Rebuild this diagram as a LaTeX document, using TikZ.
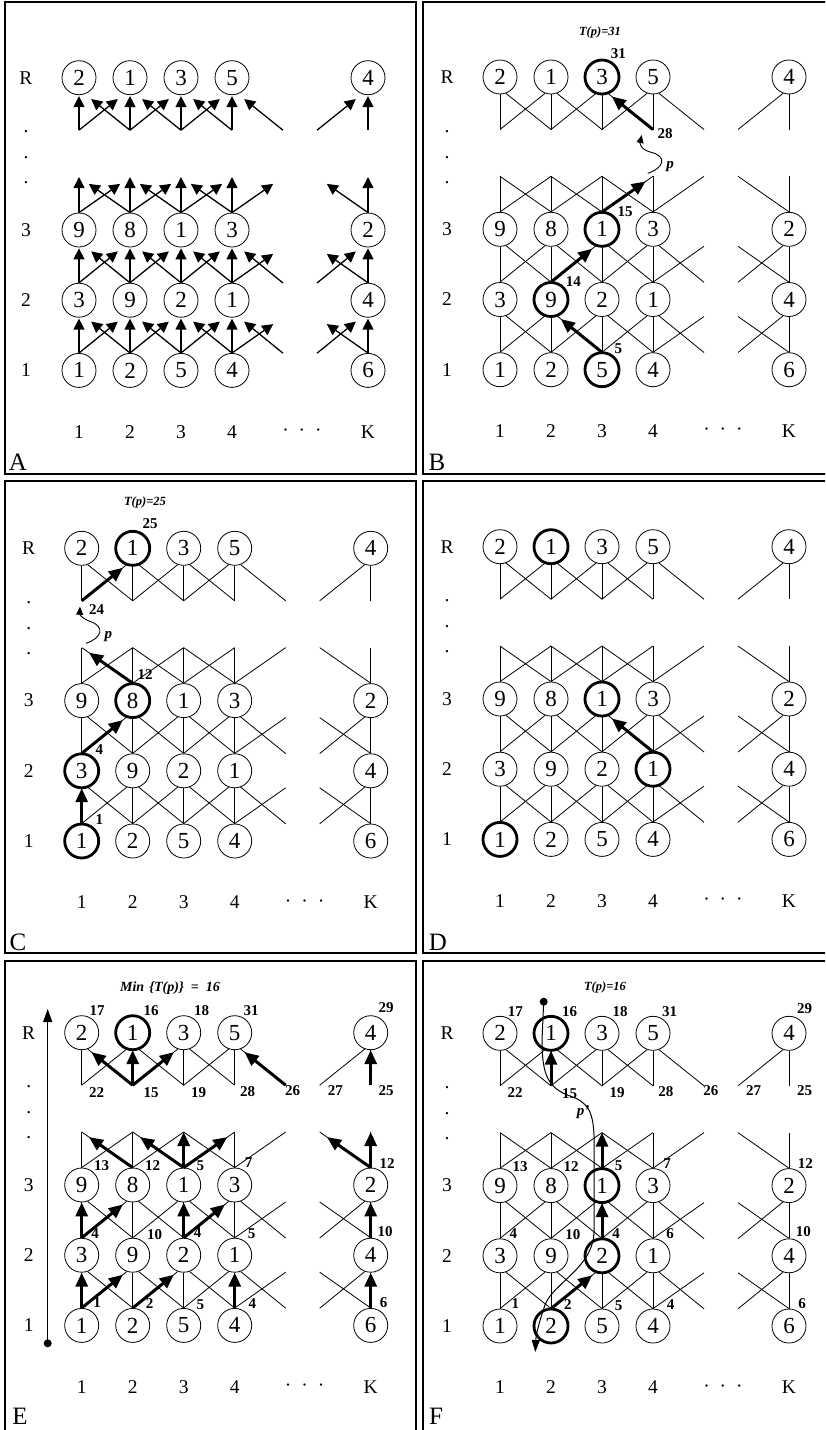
\documentclass[tikz,border=0pt]{standalone}
\usepackage{fontspec}
\setmainfont{Liberation Serif}
\usetikzlibrary{arrows.meta}

\tikzset{
 nd/.style={circle, draw, fill=white, minimum size=34pt, inner sep=0pt, line width=0.8pt, font=\fontsize{23}{23}\selectfont},
 lbl/.style={inner sep=0pt, font=\fontsize{19.5}{19.5}\selectfont},
 plbl/.style={inner sep=0pt, font=\fontsize{25}{25}\selectfont},
 num/.style={inner sep=0pt, font=\fontsize{15}{15}\selectfont\bfseries},
 ttl/.style={inner sep=0pt, font=\fontsize{12.5}{12.5}\selectfont\bfseries\itshape},
 thinl/.style={line width=0.8pt},
 arw/.style={line width=1.3pt, -{Triangle[length=11pt,width=11pt]}},
 ed/.style={thinl}, ev/.style={thinl}, pd/.style={thinl}, pv/.style={thinl},
 hot/.style={line width=3pt, -{Triangle[length=14pt,width=12pt]}},
 hotd/.style={hot, shorten >=5pt},
 hotv/.style={hot},
 hotp/.style={hot, shorten >=9pt},
 ring/.style={line width=2.8pt},
 panelframe/.style={line width=1.5pt},
 wavy/.style={line width=0.9pt, -{Triangle[length=8pt,width=7pt]}},
}

% edges between two real rows (#2 lower, #3 upper)
\newcommand\edgesmid[3]{%
 \draw[ev] (#1-1-#2.north) -- (#1-1-#3.south);
 \draw[ed] (#1-1-#2.north) -- (#1-2-#3.250);
 \draw[ed] (#1-2-#2.north) -- (#1-1-#3.290);
 \draw[ev] (#1-2-#2.north) -- (#1-2-#3.south);
 \draw[ed] (#1-2-#2.north) -- (#1-3-#3.250);
 \draw[ed] (#1-3-#2.north) -- (#1-2-#3.290);
 \draw[ev] (#1-3-#2.north) -- (#1-3-#3.south);
 \draw[ed] (#1-3-#2.north) -- (#1-4-#3.250);
 \draw[ed] (#1-4-#2.north) -- (#1-3-#3.290);
 \draw[ev] (#1-4-#2.north) -- (#1-4-#3.south);
 \draw[pd] (#1-4-#2.north) -- (#1-5-#3b);
 \draw[ed] (#1-5-#2t) -- (#1-4-#3.290);
 \draw[pd] (#1-K-#2.north) -- (#1-J-#3b);
 \draw[ed] (#1-J-#2t) -- (#1-K-#3.250);
 \draw[ev] (#1-K-#2.north) -- (#1-K-#3.south);
}
% edges from row 3 upward to the cut
\newcommand\edgestop[1]{%
 \draw[pv] (#1-1-3.north) -- (#1-1-4b);
 \draw[pd] (#1-1-3.north) -- (#1-2-4b);
 \draw[pd] (#1-2-3.north) -- (#1-1-4b);
 \draw[pv] (#1-2-3.north) -- (#1-2-4b);
 \draw[pd] (#1-2-3.north) -- (#1-3-4b);
 \draw[pd] (#1-3-3.north) -- (#1-2-4b);
 \draw[pv] (#1-3-3.north) -- (#1-3-4b);
 \draw[pd] (#1-3-3.north) -- (#1-4-4b);
 \draw[pd] (#1-4-3.north) -- (#1-3-4b);
 \draw[pv] (#1-4-3.north) -- (#1-4-4b);
 \draw[pd] (#1-4-3.north) -- (#1-5-4b);
 \draw[pd] (#1-K-3.north) -- (#1-J-4b);
 \draw[pv] (#1-K-3.north) -- (#1-K-4b);
}
% edges from the cut into row R
\newcommand\edgesR[1]{%
 \draw[ev] (#1-1-Qt) -- (#1-1-R.south);
 \draw[ed] (#1-2-Qt) -- (#1-1-R.290);
 \draw[ed] (#1-1-Qt) -- (#1-2-R.250);
 \draw[ev] (#1-2-Qt) -- (#1-2-R.south);
 \draw[ed] (#1-3-Qt) -- (#1-2-R.290);
 \draw[ed] (#1-2-Qt) -- (#1-3-R.250);
 \draw[ev] (#1-3-Qt) -- (#1-3-R.south);
 \draw[ed] (#1-4-Qt) -- (#1-3-R.290);
 \draw[ed] (#1-3-Qt) -- (#1-4-R.250);
 \draw[ev] (#1-4-Qt) -- (#1-4-R.south);
 \draw[ed] (#1-5-Qt) -- (#1-4-R.290);
 \draw[ed] (#1-J-Qt) -- (#1-K-R.250);
 \draw[ev] (#1-K-Qt) -- (#1-K-R.south);
}

\newcommand\panel[3]{%
\begin{scope}[shift={(#2,#3)}]
 \node[nd] (#1-1-R) at (0,0) {2};
 \node[nd] (#1-2-R) at (51,0) {1};
 \node[nd] (#1-3-R) at (102,0) {3};
 \node[nd] (#1-4-R) at (153,0) {5};
 \node[nd] (#1-K-R) at (289,0) {4};
 \node[nd] (#1-1-3) at (0,152.3) {9};
 \node[nd] (#1-2-3) at (51,152.3) {8};
 \node[nd] (#1-3-3) at (102,152.3) {1};
 \node[nd] (#1-4-3) at (153,152.3) {3};
 \node[nd] (#1-K-3) at (289,152.3) {2};
 \node[nd] (#1-1-2) at (0,222.5) {3};
 \node[nd] (#1-2-2) at (51,222.5) {9};
 \node[nd] (#1-3-2) at (102,222.5) {2};
 \node[nd] (#1-4-2) at (153,222.5) {1};
 \node[nd] (#1-K-2) at (289,222.5) {4};
 \node[nd] (#1-1-1) at (0,292.7) {1};
 \node[nd] (#1-2-1) at (51,292.7) {2};
 \node[nd] (#1-3-1) at (102,292.7) {5};
 \node[nd] (#1-4-1) at (153,292.7) {4};
 \node[nd] (#1-K-1) at (289,292.7) {6};
 \coordinate (#1-5-1t) at (204,275.5);
 \coordinate (#1-J-1t) at (238,275.5);
 \coordinate (#1-5-2b) at (204,239.5);
 \coordinate (#1-J-2b) at (238,239.5);
 \coordinate (#1-5-2t) at (204,205.3);
 \coordinate (#1-J-2t) at (238,205.3);
 \coordinate (#1-5-3b) at (204,169.3);
 \coordinate (#1-J-3b) at (238,169.3);
 \foreach \c/\x in {1/0,2/51,3/102,4/153,5/204,J/238,K/289}{
  \coordinate (#1-\c-4b) at (\x,99.3);
  \coordinate (#1-\c-Qt) at (\x,52.5);
 }
 \edgesmid{#1}{1}{2}
 \edgesmid{#1}{2}{3}
 \edgestop{#1}
 \edgesR{#1}
 \node[lbl] (#1-rR) at (-53,0) {R};
 \node[lbl] (#1-d1) at (-53,54.3) {.};
 \node[lbl] (#1-d2) at (-53,80.3) {.};
 \node[lbl] (#1-d3) at (-53,105.3) {.};
 \node[lbl] (#1-r3) at (-53,152.3) {3};
 \node[lbl] (#1-r2) at (-53,222.5) {2};
 \node[lbl] (#1-r1) at (-53,292.7) {1};
 \node[lbl] (#1-c1) at (0,354) {1};
 \node[lbl] (#1-c2) at (51,354) {2};
 \node[lbl] (#1-c3) at (102,354) {3};
 \node[lbl] (#1-c4) at (153,354) {4};
 \node[lbl] (#1-cd) at (223,355) {·\kern10pt·\kern10pt·};
 \node[lbl] (#1-cK) at (289,354) {K};
\end{scope}}

\newcommand\costs[4]{%
\begin{scope}[shift={(#2,#3)}]
 \node[num] (#1-nR1) at (15.3,-22) {17};
 \node[num] (#1-nR2) at (69.5,-22) {16};
 \node[num] (#1-nR3) at (120,-22) {18};
 \node[num] (#1-nR4) at (169.5,-22) {31};
 \node[num] (#1-nRK) at (304.5,-24.7) {29};
 \node[num] (#1-nQ1) at (15,59.5) {22};
 \node[num] (#1-nQ2) at (69.5,60) {15};
 \node[num] (#1-nQ3) at (117,59.5) {19};
 \node[num] (#1-nQ4) at (165.8,58.7) {28};
 \node[num] (#1-nQ5) at (210.8,57.7) {26};
 \node[num] (#1-nQJ) at (253.6,57.7) {27};
 \node[num] (#1-nQK) at (304.5,57.7) {25};
 \node[num] (#1-n31) at (20,133) {13};
 \node[num] (#1-n32) at (71,133) {12};
 \node[num] (#1-n33) at (118.6,132.5) {5};
 \node[num] (#1-n34) at (167,130) {7};
 \node[num] (#1-n3K) at (305.3,130.6) {12};
 \node[num] (#1-n21) at (13.3,200.6) {4};
 \node[num] (#1-n22) at (72.8,201.6) {10};
 \node[num] (#1-n23) at (116,200.3) {4};
 \node[num] (#1-n24) at (170,200.6) {#4};
 \node[num] (#1-n2K) at (303.3,198.7) {10};
 \node[num] (#1-n11) at (15.3,270.3) {1};
 \node[num] (#1-n12) at (67.8,271) {2};
 \node[num] (#1-n13) at (118.6,272) {5};
 \node[num] (#1-n14) at (170.6,271) {4};
 \node[num] (#1-n1K) at (302,270.3) {6};
\end{scope}}

\begin{document}
\begin{tikzpicture}[x=1pt,y=-1pt]
\useasboundingbox (0,0) rectangle (825,1430);
\clip (0,0) rectangle (825,1430);
\fill[white] (0,0) rectangle (825,1430);

% frames
\draw[panelframe] (5,2) rectangle (416,474);
\draw[panelframe] (423,2) rectangle (834,474);
\draw[panelframe] (5,481) rectangle (416,953);
\draw[panelframe] (423,481) rectangle (834,953);
\draw[panelframe] (5,961) rectangle (416,1432);
\draw[panelframe] (423,961) rectangle (834,1432);
\node[plbl] (labA) at (18,462) {A};
\node[plbl] (labB) at (437,462) {B};
\node[plbl] (labC) at (18,942) {C};
\node[plbl] (labD) at (438,942) {D};
\node[plbl] (labE) at (20,1416) {E};
\node[plbl] (labF) at (436,1416) {F};

% ---------- A ----------
\begin{scope}[ed/.style={arw,shorten >=8pt}, ev/.style={arw,shorten >=1pt},
              pd/.style={arw,shorten >=12pt}, pv/.style={arw}]
\panel{A}{79}{77.7}
\end{scope}

% ---------- B ----------
\panel{B}{500}{77}
\foreach \n in {B-3-1,B-2-2,B-3-3,B-3-R} \draw[ring] (\n) circle[radius=17pt];
\draw[hotd] (B-3-1.north) -- (B-2-2.290);
\draw[hotd] (B-2-2.north) -- (B-3-3.250);
\draw[hotp] (B-3-3.north) -- (B-4-4b);
\draw[hotd] (B-4-Qt) -- (B-3-R.290);
\begin{scope}[shift={(500,77)}]
 \coordinate (B-ws) at (147.7,96.3);
 \coordinate (B-we) at (141.7,58);
 \draw[wavy] (B-ws) .. controls (164,91) and (168,79) .. (150,75) .. controls (140,72) and (140,66) .. (B-we);
 \node[num] (B-p) at (170,89.7) {\itshape p};
 \node[num] (B-n1) at (118.4,271.3) {5};
 \node[num] (B-n2) at (73.4,204.7) {14};
 \node[num] (B-n3) at (125,134.7) {15};
 \node[num] (B-n4) at (165,56.3) {28};
 \node[num] (B-n5) at (118.4,-23.7) {31};
 \node[ttl] (B-t) at (100,-44.7) {T(p)=31};
\end{scope}

% ---------- C ----------
\panel{C}{81.7}{548.3}
\foreach \n in {C-1-1,C-1-2,C-2-3,C-2-R} \draw[ring] (\n) circle[radius=17pt];
\draw[hotv] (C-1-1.north) -- (C-1-2.south);
\draw[hotd] (C-1-2.north) -- (C-2-3.250);
\draw[hotp] (C-2-3.north) -- (C-1-4b);
\draw[hotd] (C-1-Qt) -- (C-2-R.250);
\begin{scope}[shift={(81.7,548.3)}]
 \coordinate (C-ws) at (4.3,95);
 \coordinate (C-we) at (-1.7,58.4);
 \draw[wavy] (C-ws) .. controls (20,90) and (24,78) .. (8,73) .. controls (0,70) and (-2,66) .. (C-we);
 \node[num] (C-p) at (26.6,88.4) {\itshape p};
 \node[num] (C-n1) at (17.6,271.7) {1};
 \node[num] (C-n2) at (17.6,201.7) {4};
 \node[num] (C-n3) at (63.3,126.7) {12};
 \node[num] (C-n4) at (15,61.7) {24};
 \node[num] (C-n5) at (68.3,-25) {25};
 \node[ttl] (C-t) at (63.3,-46) {T(p)=25};
\end{scope}

% ---------- D ----------
\panel{D}{500}{546.7}
\foreach \n in {D-1-1,D-4-2,D-3-3,D-2-R} \draw[ring] (\n) circle[radius=17pt];
\draw[hotd] (D-4-2.north) -- (D-3-3.290);

% ---------- E ----------
\panel{E}{81.7}{1032.7}
\draw[ring] (E-2-R) circle[radius=17pt];
\draw[hotv] (E-1-1.north) -- (E-1-2.south);
\draw[hotd] (E-1-1.north) -- (E-2-2.250);
\draw[hotd] (E-2-1.north) -- (E-3-2.250);
\draw[hotv] (E-4-1.north) -- (E-4-2.south);
\draw[hotv] (E-K-1.north) -- (E-K-2.south);
\draw[hotv] (E-1-2.north) -- (E-1-3.south);
\draw[hotd] (E-1-2.north) -- (E-2-3.250);
\draw[hotv] (E-3-2.north) -- (E-3-3.south);
\draw[hotd] (E-3-2.north) -- (E-4-3.250);
\draw[hotv] (E-K-2.north) -- (E-K-3.south);
\draw[hotp] (E-2-3.north) -- (E-1-4b);
\draw[hotp] (E-3-3.north) -- (E-2-4b);
\draw[hotv] (E-3-3.north) -- (E-3-4b);
\draw[hotp] (E-3-3.north) -- (E-4-4b);
\draw[hotp] (E-K-3.north) -- (E-J-4b);
\draw[hotv] (E-K-3.north) -- (E-K-4b);
\draw[hotd] (E-2-Qt) -- (E-1-R.290);
\draw[hotv] (E-2-Qt) -- (E-2-R.south);
\draw[hotd] (E-2-Qt) -- (E-3-R.250);
\draw[hotd] (E-5-Qt) -- (E-4-R.290);
\draw[hotv] (E-K-Qt) -- (E-K-R.south);
\costs{E}{81.7}{1032.7}{5}
\node[ttl, font=\fontsize{14}{14}\selectfont\bfseries\itshape] (E-t) at (170,988.3) {Min\hspace{5pt}\{T(p)\}\hspace{7pt}=\hspace{7pt}16};
\coordinate (E-dot) at (47.7,1343.3);
\coordinate (E-tip) at (47.7,1009);
\fill (E-dot) circle[radius=4pt];
\draw[line width=1.2pt, -{Triangle[length=13pt,width=9pt]}] (E-dot) -- (E-tip);

% ---------- F ----------
\panel{F}{500}{1033.3}
\foreach \n in {F-2-1,F-3-2,F-3-3,F-2-R} \draw[ring] (\n) circle[radius=17pt];
\draw[hotd] (F-2-1.north) -- (F-3-2.250);
\draw[hotv] (F-3-2.north) -- (F-3-3.south);
\draw[hotv] (F-3-3.north) -- (F-3-4b);
\draw[hotv] (F-2-Qt) -- (F-2-R.south);
\costs{F}{500}{1033.3}{6}
\node[ttl] (F-t) at (605,987.7) {T(p)=16};
\coordinate (F-dot) at (543.7,1001.7);
\coordinate (F-end) at (535.3,1352);
\fill (F-dot) circle[radius=4pt];
\draw[line width=1pt, -{Triangle[length=12pt,width=8pt]}] (F-dot) -- (542,1040)
  .. controls (542,1075) and (548,1088) .. (570,1096)
  .. controls (588,1102) and (593,1112) .. (594,1135) -- (594,1232)
  .. controls (593,1268) and (553,1283) .. (545,1305)
  .. controls (539,1322) and (536,1335) .. (F-end);
\node[num] (F-p) at (583,1112) {\itshape p’};
\end{tikzpicture}
\end{document}
